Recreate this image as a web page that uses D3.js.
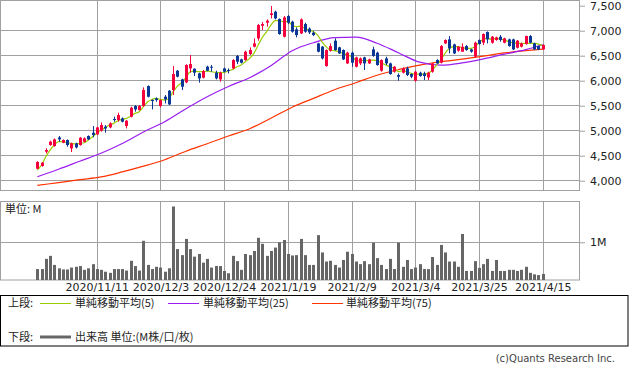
<!DOCTYPE html>
<html><head><meta charset="utf-8">
<script src="https://cdn.jsdelivr.net/npm/d3@7/dist/d3.min.js"></script>
<style>
html,body{margin:0;padding:0;background:#fff;}
svg{display:block;}
text{font-family:"DejaVu Sans","Noto Sans CJK JP",sans-serif;font-size:11px;fill:#222;}
.jp{font-family:"Noto Sans CJK JP",sans-serif;}
</style></head><body>
<svg id="c" width="633" height="373"></svg>
<script>
// ---- data ----
const xTickIdx = [14, 29, 44, 59, 74, 89, 104, 119];
const xTickLabels = ["2020/11/11","2020/12/3","2020/12/24","2021/1/19","2021/2/9","2021/3/4","2021/3/25","2021/4/15"];
const priceTicks = [4000,4500,5000,5500,6000,6500,7000,7500];

const opens = [4240,4293,4580,4713,4693,4866,4760,4813,4646,4746,4713,4780,4893,4960,4926,5000,5080,5066,5233,5213,
5246,5093,5280,5493,5413,5493,5893,5613,5646,5493,5680,5800,5813,6200,6026,5966,6246,6240,6146,6060,
6280,6280,6160,6026,6246,6213,6246,6493,6426,6413,6533,6680,6846,7100,7160,7313,7380,7233,6880,7293,
7180,7026,6946,7133,7040,6960,6746,6680,6293,6600,6800,6666,6613,6346,6560,6280,6346,6466,6346,6626,
6560,6200,6446,6346,6180,6113,6160,6246,6133,6000,6160,6146,6066,6180,6413,6360,6746,6826,6726,6600,
6580,6693,6626,6480,6813,6760,6973,6760,6813,6880,6760,6826,6826,6660,6680,6733,6893,6746,6693,6626];
const highs = [4390,4373,4647,4800,4846,4893,4826,4826,4760,4760,4870,4866,4906,5093,5080,5166,5113,5166,5280,5360,
5266,5213,5480,5513,5513,5866,5906,5626,5666,5626,5713,5813,6293,6213,6040,6330,6513,6246,6160,6213,
6300,6313,6200,6180,6260,6246,6430,6513,6440,6600,6666,6846,7133,7173,7226,7493,7400,7246,7293,7313,
7200,7066,7246,7160,7066,6986,6760,6693,6626,6746,6846,6680,6626,6580,6580,6480,6466,6480,6440,6680,
6580,6426,6480,6360,6293,6146,6266,6280,6146,6200,6180,6180,6180,6360,6430,6713,6826,6893,6740,6693,
6746,6713,6640,6780,6826,6946,6986,6893,6880,6913,6860,6840,6840,6813,6760,6900,6913,6760,6700,6726];
const lows = [4230,4280,4546,4700,4680,4780,4750,4680,4573,4646,4700,4766,4813,4866,4913,4980,4960,5050,5180,5180,
5166,5046,5266,5380,5400,5480,5666,5426,5580,5466,5546,5513,5713,6066,5813,5950,6160,6093,5960,6046,
6190,6180,6026,5980,6166,6146,6230,6333,6346,6400,6513,6666,6800,7013,7080,7246,7226,6920,6866,7133,
6960,6866,6933,6960,6933,6893,6566,6426,6280,6580,6600,6533,6413,6333,6280,6266,6313,6213,6333,6480,
6300,6180,6313,6120,6160,6000,6146,6093,6050,5980,6080,6013,6013,6160,6333,6346,6733,6546,6533,6580,
6580,6600,6560,6466,6720,6713,6746,6740,6800,6780,6746,6680,6613,6646,6666,6720,6746,6613,6613,6613];
const closes = [4375,4360,4613,4780,4826,4826,4813,4713,4746,4666,4860,4846,4826,4913,5066,5113,5046,5146,5213,5313,
5180,5200,5460,5426,5493,5813,5680,5593,5613,5613,5626,5526,6133,6080,5880,6313,6333,6160,6046,6193,
6200,6260,6046,6160,6180,6200,6413,6380,6360,6580,6613,6746,7113,7133,7200,7346,7246,6933,7266,7160,
6980,6913,7226,6980,6966,6913,6580,6446,6613,6693,6613,6546,6426,6560,6360,6466,6446,6346,6426,6493,
6313,6413,6346,6133,6280,6080,6246,6113,6080,6180,6093,6093,6160,6346,6346,6693,6813,6646,6546,6680,
6680,6613,6580,6760,6733,6933,6826,6880,6866,6813,6846,6693,6626,6800,6746,6893,6760,6626,6626,6713];
// volume, millions of shares
const volumes = [0.29,0.29,0.56,0.64,0.40,0.31,0.28,0.28,0.33,0.35,0.37,0.27,0.31,0.42,0.29,0.27,0.22,0.19,0.29,0.29,
0.29,0.25,0.51,0.37,0.25,1.04,0.40,0.29,0.35,0.33,0.22,0.31,1.95,0.82,0.66,1.09,0.82,0.62,0.69,0.46,
0.56,0.33,0.37,0.37,0.24,0.18,0.64,0.50,0.27,0.69,0.66,0.77,1.12,0.96,0.64,0.77,0.86,1.00,1.06,0.69,
0.65,0.66,1.09,0.66,0.40,0.40,1.19,0.73,0.49,0.51,0.40,0.33,0.53,0.75,0.69,0.49,0.42,0.50,0.42,0.99,
0.58,0.40,0.29,0.56,0.29,0.99,0.35,0.53,0.29,0.33,0.42,0.29,0.29,0.61,0.40,0.93,0.73,0.49,0.49,0.35,
1.22,0.24,0.24,0.50,0.32,0.42,0.56,0.24,0.53,0.24,0.24,0.27,0.27,0.24,0.27,0.35,0.19,0.15,0.13,0.16];
// moving averages
const ma5 = [4213,4313,4480,4613,4713,4780,4780,4760,4746,4733,4746,4760,4813,4880,4946,5013,5060,5113,5146,5200,
5226,5246,5293,5346,5380,5480,5580,5626,5646,5626,5613,5646,5780,5893,5960,6066,6180,6193,6180,6180,
6193,6180,6166,6160,6166,6200,6226,6280,6313,6380,6446,6546,6713,6866,6980,7113,7200,7200,7180,7180,
7113,7080,7093,7046,7013,6980,6913,6780,6680,6613,6600,6580,6546,6513,6480,6413,6393,6413,6400,6413,
6400,6360,6313,6280,6246,6180,6200,6180,6146,6133,6133,6133,6146,6213,6313,6413,6546,6646,6680,6680,
6660,6646,6646,6680,6760,6826,6846,6826,6846,6833,6813,6780,6760,6746,6746,6746,6746,6746,6733,6700];
const maDays = [0,5,10,15,20,25,30,35,40,45,50,55,60,65,70,75,80,85,90,95,100,105,110,115,119];
const ma25 = [4080,4230,4390,4550,4745,4975,5180,5440,5680,5885,6060,6300,6600,6760,6860,6870,6750,6560,6370,6310,6355,6435,6530,6620,6725];
const ma75 = [3906,3963,4020,4075,4175,4290,4420,4590,4740,4895,5040,5250,5470,5646,5820,5960,6110,6220,6310,6380,6430,6490,6555,6600,6630];

// ---- layout ----
const svg = d3.select("#c");
const L = 0.5, R = 579.5, T1 = 0.5, B1 = 190.5, T2 = 201.5, B2 = 280;
const grid = "#a0a0a0";
const upCol = "#f5003c", dnCol = "#0a3696";

const x = d3.scaleLinear().domain([0, 119]).range([37.3, 542.7]);
const y = d3.scaleLinear().domain([4000, 7000]).range([180.7, 30.7]);
const yv = d3.scaleLinear().domain([0, 1]).range([B2, 242.3]);
const px = i => Math.round(x(i));

svg.append("defs").append("clipPath").attr("id","clipTop")
  .append("rect").attr("x",L).attr("y",T1).attr("width",R-L).attr("height",B1-T1);

// top panel grid
const gTop = svg.append("g");
gTop.selectAll("line.h").data(priceTicks.filter(d => d < 7500)).join("line")
  .attr("x1",L).attr("x2",R)
  .attr("y1",d => Math.floor(y(d))+0.5).attr("y2",d => Math.floor(y(d))+0.5)
  .attr("stroke",grid);
gTop.selectAll("line.v").data(xTickIdx).join("line")
  .attr("x1",d => px(d)+0.5).attr("x2",d => px(d)+0.5)
  .attr("y1",T1).attr("y2",B1).attr("stroke",grid);
gTop.append("rect").attr("x",L).attr("y",T1).attr("width",R-L).attr("height",B1-T1)
  .attr("fill","none").attr("stroke",grid);

// volume panel grid
const gVol = svg.append("g");
gVol.append("line").attr("x1",L).attr("x2",R)
  .attr("y1",Math.floor(yv(1))+0.5).attr("y2",Math.floor(yv(1))+0.5).attr("stroke",grid);
gVol.selectAll("line.v").data(xTickIdx).join("line")
  .attr("x1",d => px(d)+0.5).attr("x2",d => px(d)+0.5)
  .attr("y1",T2).attr("y2",B2).attr("stroke",grid);
gVol.append("rect").attr("x",L).attr("y",T2).attr("width",R-L).attr("height",B2-T2)
  .attr("fill","none").attr("stroke",grid);

// moving averages
const plot = svg.append("g").attr("clip-path","url(#clipTop)");
const lineFull = d3.line().x((d,i) => x(i)).y(d => y(d)).curve(d3.curveMonotoneX);
const lineSamp = d3.line().x(d => x(d[0])).y(d => y(d[1])).curve(d3.curveMonotoneX);
plot.append("path").attr("d", lineSamp(maDays.map((d,k) => [d, ma75[k]])))
  .attr("fill","none").attr("stroke","#ff3300").attr("stroke-width",1.2);
plot.append("path").attr("d", lineSamp(maDays.map((d,k) => [d, ma25[k]])))
  .attr("fill","none").attr("stroke","#9a1ef0").attr("stroke-width",1.2);
plot.append("path").attr("d", lineFull(ma5))
  .attr("fill","none").attr("stroke","#9acd00").attr("stroke-width",1.2);

// candles
const idx = d3.range(opens.length);
const cg = plot.append("g");
cg.selectAll("line.w").data(idx).join("line")
  .attr("x1",i => px(i)+0.5).attr("x2",i => px(i)+0.5)
  .attr("y1",i => y(highs[i])).attr("y2",i => y(lows[i]))
  .attr("stroke",i => closes[i] >= opens[i] ? upCol : dnCol).attr("stroke-width",1);
cg.selectAll("rect").data(idx).join("rect")
  .attr("x",i => px(i)-1).attr("width",3)
  .attr("y",i => y(Math.max(opens[i],closes[i])))
  .attr("height",i => Math.max(1, Math.abs(y(opens[i]) - y(closes[i]))))
  .attr("fill",i => closes[i] >= opens[i] ? upCol : dnCol);

// volume bars
svg.append("g").selectAll("rect").data(idx).join("rect")
  .attr("x",i => px(i)-1).attr("width",3)
  .attr("y",i => yv(volumes[i])).attr("height",i => B2 - yv(volumes[i]))
  .attr("fill","#666");

// axes
const yAxis = d3.axisRight(y).tickValues(priceTicks).tickFormat(d3.format(",")).tickSize(5).tickPadding(5);
const ga = svg.append("g").attr("transform","translate(580,0)").call(yAxis);
ga.select(".domain").remove();
ga.selectAll(".tick line").attr("stroke",grid);
ga.selectAll(".tick text").attr("fill","#222").style("font-size","11px").style("font-family",null);

const vAxis = d3.axisRight(yv).tickValues([1]).tickFormat(d => d + "M").tickSize(5).tickPadding(5);
const gv = svg.append("g").attr("transform","translate(580,0)").call(vAxis);
gv.select(".domain").remove();
gv.selectAll(".tick line").attr("stroke",grid);
gv.selectAll(".tick text").attr("fill","#222").style("font-size","11px").style("font-family",null);

const xAxis = d3.axisBottom(x).tickValues(xTickIdx).tickFormat((d,k) => xTickLabels[k]).tickSize(0).tickPadding(0);
const gx = svg.append("g").attr("transform","translate(0,283)").call(xAxis);
gx.select(".domain").remove();
gx.selectAll(".tick text").attr("fill","#222").style("font-size","11px").style("font-family",null);

svg.append("text").attr("class","jp").attr("x",5).attr("y",213).text("単位: M");

// legend
const lg = svg.append("g");
lg.append("rect").attr("x",0.5).attr("y",295.5).attr("width",627.5).attr("height",50.5)
  .attr("fill","none").attr("stroke","#000");
lg.append("text").attr("class","jp").attr("x",8).attr("y",307).text("上段:");
const items = [
  {x1:40, x2:71, tx:75, col:"#9acd00", label:"単純移動平均(5)"},
  {x1:168, x2:199, tx:203, col:"#9a1ef0", label:"単純移動平均(25)"},
  {x1:312, x2:343, tx:346, col:"#ff3300", label:"単純移動平均(75)"}
];
items.forEach(it => {
  lg.append("line").attr("x1",it.x1).attr("x2",it.x2).attr("y1",303.5).attr("y2",303.5)
    .attr("stroke",it.col).attr("stroke-width",1);
  lg.append("text").attr("class","jp").attr("x",it.tx).attr("y",307).text(it.label);
});
lg.append("text").attr("class","jp").attr("x",8).attr("y",341).text("下段:");
lg.append("line").attr("x1",40).attr("x2",71).attr("y1",337).attr("y2",337)
  .attr("stroke","#666").attr("stroke-width",3);
lg.append("text").attr("class","jp").attr("x",75).attr("y",341).text("出来高 単位:(M株/口/枚)");

svg.append("text").attr("x",615).attr("y",362).attr("text-anchor","end")
  .style("fill","#444").style("font-size","10px").text("(c)Quants Research Inc.");
</script>
</body></html>
